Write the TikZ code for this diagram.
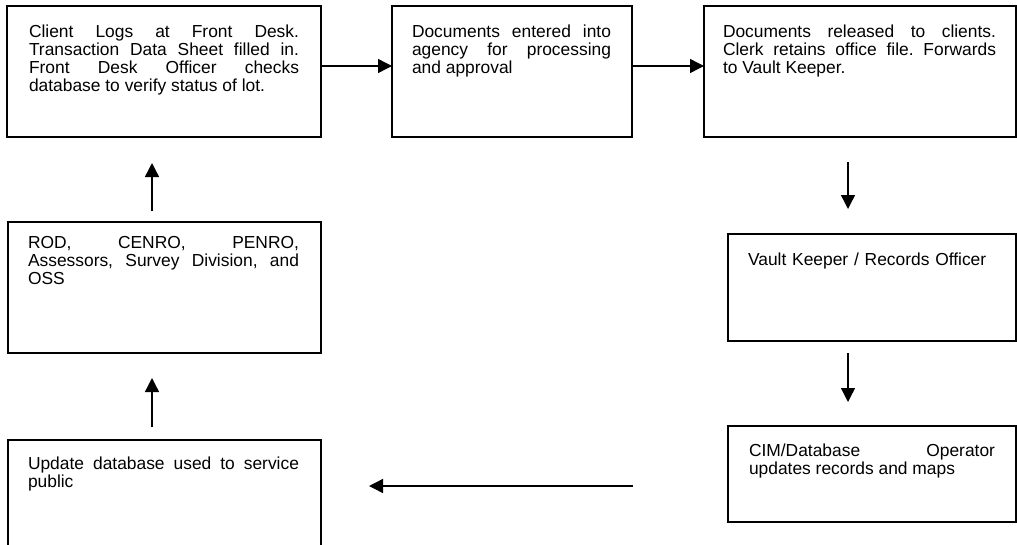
\documentclass[tikz,border=0pt]{standalone}
\usepackage{fontspec}
\setmainfont{Liberation Sans}
\usetikzlibrary{arrows.meta}
\tolerance=10000
\hyphenpenalty=10000
\exhyphenpenalty=10000
\frenchspacing
\begin{document}
\begin{tikzpicture}[x=1pt,y=-1pt,
  box/.style={draw, line width=1.8pt, inner sep=0pt, outer sep=0pt, anchor=north west},
  txt/.style={inner sep=0pt, outer sep=0pt, anchor=base west, align=justify,
    font=\fontsize{17.4pt}{18pt}\selectfont},
  arr/.style={line width=1.4pt, -{Triangle[length=14pt,width=14pt]}}]
\useasboundingbox (0,0) rectangle (1017,544);
\clip (0,0) rectangle (1017,544);
% boxes
\node[box, minimum width=314pt, minimum height=131pt] (b1) at (7,6) {};
\node[box, minimum width=240pt, minimum height=131pt] (b2) at (392,6) {};
\node[box, minimum width=312pt, minimum height=131pt] (b3) at (704,6) {};
\node[box, minimum width=288pt, minimum height=107pt] (b4) at (728,234) {};
\node[box, minimum width=288pt, minimum height=96pt] (b5) at (728,426) {};
\node[box, minimum width=313pt, minimum height=124pt] (b6) at (8,440) {};
\node[box, minimum width=313pt, minimum height=131pt] (b7) at (8,222) {};
% texts
\node[txt, text width=270pt] (t1) at (29,37) {Client Logs at Front Desk.\linebreak Transaction Data Sheet filled in.\linebreak Front Desk Officer checks\linebreak database to verify status of lot.};
\node[txt, text width=199pt] (t2) at (412,37) {Documents entered into\linebreak agency for processing\linebreak and approval};
\node[txt, text width=273pt] (t3) at (723,37) {Documents released to clients.\linebreak Clerk retains office file. Forwards\linebreak to Vault Keeper.};
\node[txt, text width=250pt, align=left] (t4) at (748,265) {Vault Keeper / Records Officer};
\node[txt, text width=246pt] (t5) at (749,456) {CIM/Database Operator\linebreak updates records and maps};
\node[txt, text width=271pt] (t6) at (28,469) {Update database used to service\linebreak public};
\node[txt, text width=271pt] (t7) at (28,248) {ROD, CENRO, PENRO,\linebreak Assessors, Survey Division, and\linebreak OSS};
% arrows
\coordinate (ya) at (0,66);
\coordinate (xr) at (848,0);
\coordinate (xl) at (152,0);
\coordinate (yb) at (0,486);
\draw[arr] (b1.east |- ya) -- (b2.west |- ya);
\draw[arr] (b2.east |- ya) -- (b3.west |- ya);
\draw[arr, shorten <=25pt, shorten >=25pt] (b3.south -| xr) -- (b4.north -| xr);
\draw[arr, shorten <=12pt, shorten >=24pt] (b4.south -| xr) -- (b5.north -| xr);
\draw[arr, shorten <=95pt, shorten >=48pt] (b5.west |- yb) -- (b6.east |- yb);
\draw[arr, shorten <=13pt, shorten >=25pt] (b6.north -| xl) -- (b7.south -| xl);
\draw[arr, shorten <=11pt, shorten >=26pt] (b7.north -| xl) -- (b1.south -| xl);
\end{tikzpicture}
\end{document}
